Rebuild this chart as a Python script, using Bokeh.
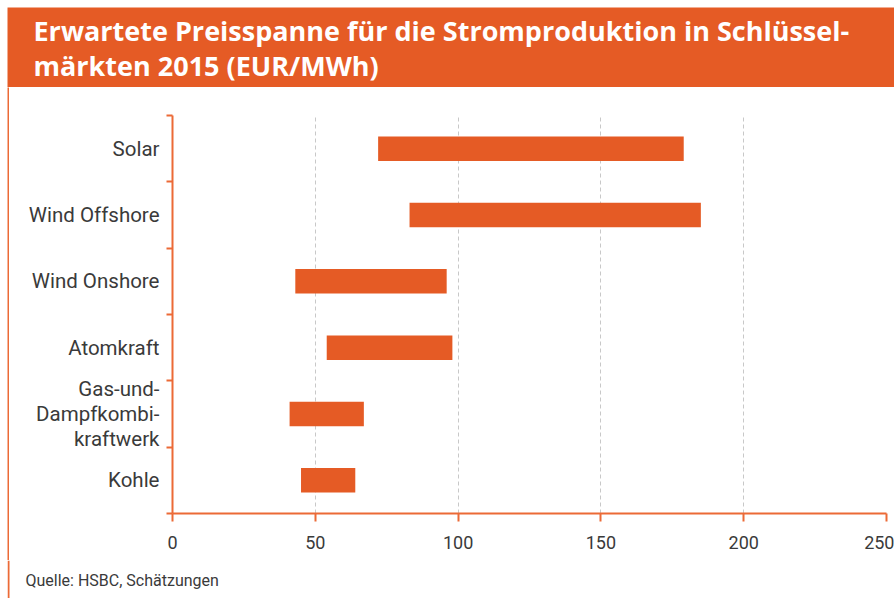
from bokeh.plotting import figure
from bokeh.layouts import column, row
from bokeh.models import Range1d, FixedTicker, Label, ColumnDataSource, Span
from bokeh.embed import file_html
from bokeh.resources import INLINE

# ---- data ----
categories = ["Solar", "Wind Offshore", "Wind Onshore", "Atomkraft",
              "Gas-und-\nDampfkombi-\nkraftwerk", "Kohle"]
price_low = [72, 83, 43, 54, 41, 45]
price_high = [179, 185, 96, 98, 67, 64]
x_ticks = [0, 50, 100, 150, 200, 250]
title_lines = ["Erwartete Preisspanne für die Stromproduktion in Schlüssel-",
               "märkten 2015 (EUR/MWh)"]
source_text = "Quelle: HSBC, Schätzungen"

ORANGE = "#E55B25"
AXIS = "#EC6A36"
TXT = "#3a3a3a"

TOTAL_W = 894
BAND_H = 87
FOOT_H = 38
MAIN_H = 598 - BAND_H - FOOT_H
STRIP_W = 9
MAIN_W = TOTAL_W - STRIP_W


def blank(width, height, xr, yr, **kw):
    f = figure(width=width, height=height, output_backend="svg",
               toolbar_location=None, x_axis_type=None, y_axis_type=None,
               x_range=xr, y_range=yr, border_fill_color="white", **kw)
    f.outline_line_color = None
    f.grid.grid_line_color = None
    return f


# ---- title band ----
band = blank(TOTAL_W, BAND_H, Range1d(0, TOTAL_W - 7), Range1d(BAND_H - 7, 0),
             min_border_left=7, min_border_right=0, min_border_top=7,
             min_border_bottom=0, background_fill_color=ORANGE)
for i, t in enumerate(title_lines):
    band.add_layout(Label(x=26, y=23 + 35 * i, text=t, text_font="Open Sans",
                          text_font_style="bold", text_font_size="27px",
                          text_color="white", text_baseline="alphabetic",
                          text_align="left"))

# ---- left border strip ----
strip = blank(STRIP_W, MAIN_H, Range1d(0, 1), Range1d(0, 1),
              min_border_left=7, min_border_right=0, min_border_top=0,
              min_border_bottom=0, background_fill_color=AXIS)

# ---- main chart ----
n = len(categories)
ypos = [n - i - 0.5 for i in range(n)]
src = ColumnDataSource(dict(y=ypos, low=price_low, high=price_high, cat=categories))

p = figure(width=MAIN_W, height=MAIN_H, output_backend="svg", toolbar_location=None,
           x_range=Range1d(0, 250), y_range=Range1d(0, n),
           min_border_left=163, min_border_right=8,
           min_border_top=28, min_border_bottom=MAIN_H - 28 - 398,
           background_fill_color="white", border_fill_color="white")
p.outline_line_color = None

p.hbar(y="y", left="low", right="high", height=0.37, source=src,
       fill_color=ORANGE, line_color=None)

xa = p.xaxis[0]
xa.ticker = FixedTicker(ticks=x_ticks)
xa.axis_line_color = AXIS
xa.axis_line_width = 2
xa.major_tick_line_color = AXIS
xa.major_tick_line_width = 2
xa.major_tick_out = 8
xa.major_tick_in = 0
xa.minor_tick_line_color = None
xa.major_label_standoff = 14
xa.major_label_text_font = "Roboto"
xa.major_label_text_font_size = "18px"
xa.major_label_text_color = TXT

ya = p.yaxis[0]
ya.ticker = FixedTicker(ticks=ypos, minor_ticks=list(range(n + 1)))
ya.major_label_overrides = {y: c for y, c in zip(ypos, categories)}
ya.axis_line_color = AXIS
ya.axis_line_width = 2
ya.major_tick_line_color = None
ya.major_tick_out = 0
ya.major_tick_in = 0
ya.minor_tick_line_color = AXIS
ya.minor_tick_line_width = 2
ya.minor_tick_out = 6
ya.minor_tick_in = 0
ya.major_label_standoff = 7
ya.major_label_text_font = "Roboto"
ya.major_label_text_font_size = "20.5px"
ya.major_label_text_color = TXT
ya.major_label_text_line_height = 1.05

p.ygrid.grid_line_color = None
p.xgrid.ticker = FixedTicker(ticks=x_ticks[1:])
p.xgrid.grid_line_color = "#c8c8c8"
p.xgrid.grid_line_dash = "4 3"
p.xgrid.grid_line_width = 1

# ---- footer with source and continued left border ----
foot = blank(TOTAL_W, FOOT_H, Range1d(0, TOTAL_W - 7), Range1d(FOOT_H, 0),
             min_border_left=7, min_border_right=0, min_border_top=0,
             min_border_bottom=0, background_fill_color="white")
foot.add_layout(Span(location=1, dimension="height", line_color=AXIS, line_width=2))
foot.add_layout(Label(x=18, y=20, text=source_text, text_font="Roboto",
                      text_font_size="16px", text_color=TXT,
                      text_baseline="alphabetic", text_align="left"))

layout = column(band, row(strip, column(p)), foot)
open("out.html", "w").write(file_html(layout, INLINE))
